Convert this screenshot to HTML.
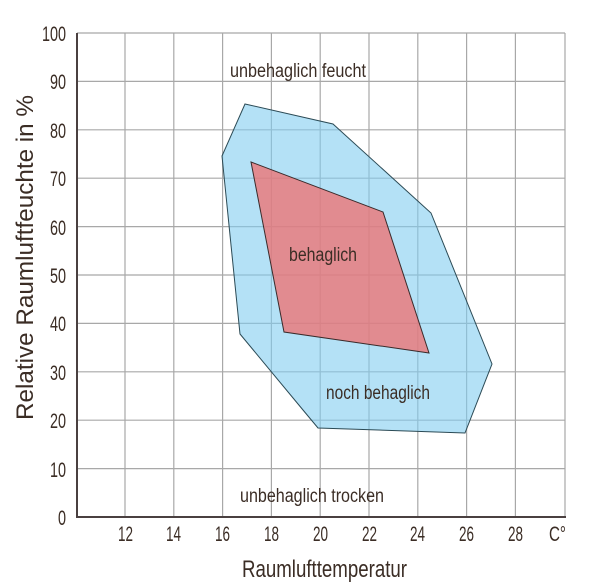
<!DOCTYPE html>
<html><head><meta charset="utf-8"><style>
html,body{margin:0;padding:0;background:#fff;}
svg{display:block;}
text{font-family:"Liberation Sans",sans-serif;fill:#3b2d25;}
</style></head><body>
<svg width="600" height="588" viewBox="0 0 600 588" xmlns="http://www.w3.org/2000/svg">
<g stroke="#a8a8a8" stroke-width="1.2">
<line x1="77" y1="33" x2="565" y2="33"/>
<line x1="77" y1="81.4" x2="565" y2="81.4"/>
<line x1="77" y1="129.8" x2="565" y2="129.8"/>
<line x1="77" y1="178.2" x2="565" y2="178.2"/>
<line x1="77" y1="226.6" x2="565" y2="226.6"/>
<line x1="77" y1="275" x2="565" y2="275"/>
<line x1="77" y1="323.4" x2="565" y2="323.4"/>
<line x1="77" y1="371.8" x2="565" y2="371.8"/>
<line x1="77" y1="420.2" x2="565" y2="420.2"/>
<line x1="77" y1="468.6" x2="565" y2="468.6"/>
<line x1="125" y1="33" x2="125" y2="517"/>
<line x1="173.8" y1="33" x2="173.8" y2="517"/>
<line x1="222.6" y1="33" x2="222.6" y2="517"/>
<line x1="271.4" y1="33" x2="271.4" y2="517"/>
<line x1="320.2" y1="33" x2="320.2" y2="517"/>
<line x1="369" y1="33" x2="369" y2="517"/>
<line x1="417.8" y1="33" x2="417.8" y2="517"/>
<line x1="466.6" y1="33" x2="466.6" y2="517"/>
<line x1="515.4" y1="33" x2="515.4" y2="517"/>
<line x1="565" y1="33" x2="565" y2="517"/>
</g>
<polygon points="245,104 333,124 431,213 492,364 465,433 318,428 303,410 240,334 222,156" fill="rgba(130,205,240,0.6)" stroke="#2b4a55" stroke-width="1"/>
<polygon points="251,162 383,212 429,353 284,332" fill="rgba(240,110,110,0.75)" stroke="#3a2a2a" stroke-width="1"/>
<g stroke="#4a4040" stroke-width="2" fill="none">
<line x1="77" y1="33" x2="77" y2="518"/>
<line x1="76" y1="517" x2="566" y2="517"/>
</g>
<g font-size="21">
<text x="42" y="41" textLength="24" lengthAdjust="spacingAndGlyphs">100</text>
<text x="50" y="89" textLength="16" lengthAdjust="spacingAndGlyphs">90</text>
<text x="50" y="138" textLength="16" lengthAdjust="spacingAndGlyphs">80</text>
<text x="50" y="186" textLength="16" lengthAdjust="spacingAndGlyphs">70</text>
<text x="50" y="235" textLength="16" lengthAdjust="spacingAndGlyphs">60</text>
<text x="50" y="283" textLength="16" lengthAdjust="spacingAndGlyphs">50</text>
<text x="50" y="331" textLength="16" lengthAdjust="spacingAndGlyphs">40</text>
<text x="50" y="380" textLength="16" lengthAdjust="spacingAndGlyphs">30</text>
<text x="50" y="428" textLength="16" lengthAdjust="spacingAndGlyphs">20</text>
<text x="50" y="477" textLength="16" lengthAdjust="spacingAndGlyphs">10</text>
<text x="58" y="525" textLength="8" lengthAdjust="spacingAndGlyphs">0</text>
</g>
<g font-size="21">
<text x="118" y="541" textLength="15" lengthAdjust="spacingAndGlyphs">12</text>
<text x="166" y="541" textLength="15" lengthAdjust="spacingAndGlyphs">14</text>
<text x="215" y="541" textLength="15" lengthAdjust="spacingAndGlyphs">16</text>
<text x="264" y="541" textLength="15" lengthAdjust="spacingAndGlyphs">18</text>
<text x="313" y="541" textLength="15" lengthAdjust="spacingAndGlyphs">20</text>
<text x="362" y="541" textLength="15" lengthAdjust="spacingAndGlyphs">22</text>
<text x="410" y="541" textLength="15" lengthAdjust="spacingAndGlyphs">24</text>
<text x="459" y="541" textLength="15" lengthAdjust="spacingAndGlyphs">26</text>
<text x="508" y="541" textLength="15" lengthAdjust="spacingAndGlyphs">28</text>
<text x="549" y="541" textLength="17" lengthAdjust="spacingAndGlyphs">C°</text>
</g>
<text x="242" y="577" font-size="24" textLength="165" lengthAdjust="spacingAndGlyphs">Raumlufttemperatur</text>
<text transform="translate(33,420) rotate(-90)" font-size="24" textLength="325" lengthAdjust="spacingAndGlyphs">Relative Raumluftfeuchte in %</text>
<g font-size="19">
<text x="230" y="77" textLength="136" lengthAdjust="spacingAndGlyphs">unbehaglich feucht</text>
<text x="289" y="261" textLength="68" lengthAdjust="spacingAndGlyphs">behaglich</text>
<text x="326" y="399" textLength="104" lengthAdjust="spacingAndGlyphs">noch behaglich</text>
<text x="240" y="502" textLength="144" lengthAdjust="spacingAndGlyphs">unbehaglich trocken</text>
</g>
</svg>
</body></html>
